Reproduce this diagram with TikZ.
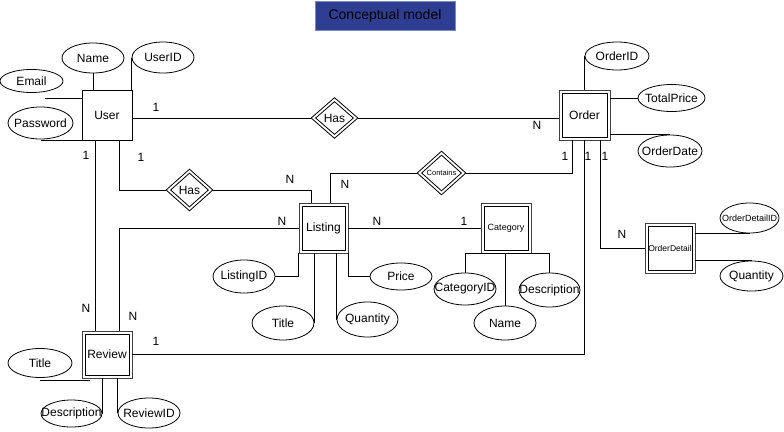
\documentclass[tikz,border=0pt]{standalone}
\usepackage{fontspec}
\setmainfont{Liberation Sans}
\usetikzlibrary{shapes.geometric,calc}
\definecolor{titlefill}{RGB}{46,62,146}
\definecolor{titleline}{RGB}{120,140,190}
\newcommand{\zw}[1]{\makebox[0pt]{#1}}
\tikzset{
  base/.style={font=\fontsize{12}{14}\selectfont, inner sep=0pt},
  attr/.style={base, ellipse, draw=black, line width=0.8pt, fill=white},
  ent/.style={base, rectangle, draw=black, line width=0.8pt, fill=white},
  went/.style={base, rectangle, draw=black!75, line width=0.8pt, fill=white,
    path picture={\draw[black, line width=0.8pt] ([shift={(3pt,-3pt)}]path picture bounding box.north west) rectangle ([shift={(-3pt,3pt)}]path picture bounding box.south east);}},
  rel/.style={base, diamond, draw=black, line width=0.8pt, fill=white,
    path picture={\draw[black, line width=0.8pt] ([yshift=-4pt]path picture bounding box.north) -- ([xshift=-4.5pt]path picture bounding box.east) -- ([yshift=4pt]path picture bounding box.south) -- ([xshift=4.5pt]path picture bounding box.west) -- cycle;}},
  conn/.style={draw=black, line width=0.8pt},
  lbl/.style={base},
}
\begin{document}
\begin{tikzpicture}[x=1pt,y=-1pt]
\useasboundingbox (0,0) rectangle (784,431);
% title
\node[base, draw=titleline, fill=titlefill, minimum width=140pt, minimum height=29pt, font=\fontsize{14}{16}\selectfont] (title) at (385,15.5) {Conceptual model};
% entities
\node[ent, minimum width=50pt, minimum height=50pt] (user) at (107,115) {User};
\node[went, minimum width=51pt, minimum height=50pt] (order) at (584.5,115) {Order};
\node[went, minimum width=49pt, minimum height=50pt] (listing) at (323.5,228) {Listing};
\node[went, minimum width=50pt, minimum height=50pt, font=\fontsize{9}{10}\selectfont] (category) at (506,228) {Category};
\node[went, minimum width=50pt, minimum height=47pt] (review) at (107,354.5) {Review};
\node[went, minimum width=50pt, minimum height=50pt, font=\fontsize{8.5}{10}\selectfont] (orderdetail) at (670,248) {OrderDetail};
% relationships
\node[rel, minimum width=47pt, minimum height=41pt] (has1) at (334.5,118) {Has};
\node[rel, minimum width=47pt, minimum height=42pt] (has2) at (189.5,190) {Has};
\node[rel, minimum width=49pt, minimum height=44pt, font=\fontsize{7.5}{9}\selectfont] (contains) at (441.5,173) {\zw{Contains}};
% attributes
\node[attr, minimum width=62pt, minimum height=30pt] (name) at (93,58) {\zw{Name}};
\node[attr, minimum width=62pt, minimum height=31pt] (userid) at (163,57.5) {\zw{UserID}};
\node[attr, minimum width=63pt, minimum height=23pt] (email) at (31.5,81) {\zw{Email}};
\node[attr, minimum width=65pt, minimum height=32pt] (password) at (40.5,123) {\zw{Password}};
\node[attr, minimum width=64pt, minimum height=28pt] (orderid) at (617,56) {\zw{OrderID}};
\node[attr, minimum width=67pt, minimum height=27pt] (totalprice) at (671.5,98) {\zw{TotalPrice}};
\node[attr, minimum width=64pt, minimum height=32pt] (orderdate) at (670,151) {\zw{OrderDate}};
\node[attr, minimum width=59pt, minimum height=30pt, font=\fontsize{9}{10}\selectfont] (orderdetailid) at (749.5,218) {\zw{OrderDetailID}};
\node[attr, minimum width=63pt, minimum height=30pt] (quantity2) at (751.5,276) {\zw{Quantity}};
\node[attr, minimum width=62pt, minimum height=33pt] (listingid) at (244,276.5) {\zw{ListingID}};
\node[attr, minimum width=62pt, minimum height=34pt] (title1) at (283,323) {\zw{Title}};
\node[attr, minimum width=61pt, minimum height=35pt] (quantity1) at (367.5,319.5) {\zw{Quantity}};
\node[attr, minimum width=62pt, minimum height=27pt] (price) at (401,276.5) {\zw{Price}};
\node[attr, minimum width=62pt, minimum height=32pt] (categoryid) at (465,289) {\zw{CategoryID}};
\node[attr, minimum width=62pt, minimum height=34pt] (catname) at (505,323) {\zw{Name}};
\node[attr, minimum width=61pt, minimum height=34pt] (catdesc) at (549.5,290) {\zw{Description}};
\node[attr, minimum width=64pt, minimum height=29pt] (revtitle) at (40,363) {\zw{Title}};
\node[attr, minimum width=61pt, minimum height=27pt] (revdesc) at (71.5,413.5) {\zw{Description}};
\node[attr, minimum width=62pt, minimum height=30pt] (reviewid) at (149,413) {\zw{ReviewID}};
% helper coordinates
\coordinate (emailend) at (45,98);
\coordinate (rtend) at (90,380);
% connectors: user attributes
\draw[conn] (name.south) -- (name.south |- user.north);
\draw[conn] (userid.west) -- (userid.west |- user.north);
\draw[conn] (emailend) -- (emailend -| user.west);
\draw[conn] (password.south |- user.south west) -- (user.south west);
% relationships
\draw[conn] (has1.west) -- (has1.west -| user.east);
\draw[conn] (has1.east) -- (has1.east -| order.west);
\draw[conn] ([xshift=12pt]user.south) |- (has2.west);
\draw[conn] (has2.east) -| ([xshift=-12.5pt]listing.north);
\draw[conn] ([xshift=-12pt]user.south) -- ([xshift=-12pt]review.north);
\draw[conn] (listing.west) -| ([xshift=12pt]review.north);
\draw[conn] (listing.east) -- (category.west);
\draw[conn] ([xshift=-12.5pt]order.south) |- (contains.east);
\draw[conn] (contains.west) -| ([xshift=6.5pt]listing.north);
\draw[conn] (order.south) |- (review.east);
\draw[conn] ([xshift=15.5pt]order.south) |- (orderdetail.west);
% order attributes
\draw[conn] (orderid.west) -- (orderid.west |- order.north);
\draw[conn] (totalprice.west) -- (totalprice.west -| order.east);
\draw[conn] (orderdate.north) -- (orderdate.north -| order.east);
\draw[conn] (orderdetailid.south) -- (orderdetailid.south -| orderdetail.east);
\draw[conn] (quantity2.north) -- (quantity2.north -| orderdetail.east);
% listing attributes
\draw[conn] (listingid.east) -| (listing.south west);
\draw[conn] (title1.east) -- (title1.east |- listing.south);
\draw[conn] (quantity1.west) -- (quantity1.west |- listing.south);
\draw[conn] (price.west) -| (listing.south east);
% category attributes
\draw[conn] (categoryid.north) -- (categoryid.north |- category.south) -- (catdesc.north |- category.south) -- (catdesc.north);
\draw[conn] (catname.north) -- (catname.north |- category.south);
% review attributes
\draw[conn] (revtitle.south |- rtend) -- (rtend);
\draw[conn] (revdesc.east) -- (revdesc.east |- review.south);
\draw[conn] (reviewid.west) -- (reviewid.west |- review.south);
% cardinality labels
\node[lbl] (l1) at (156,107) {1};
\node[lbl] (l2) at (537,125) {N};
\node[lbl] (l3) at (86,155) {1};
\node[lbl] (l4) at (141,157) {1};
\node[lbl] (l5) at (290,179) {N};
\node[lbl] (l6) at (345,184) {N};
\node[lbl] (l7) at (565,156) {1};
\node[lbl] (l8) at (588,156) {1};
\node[lbl] (l9) at (605,156) {1};
\node[lbl] (l10) at (282,221) {N};
\node[lbl] (l11) at (377,221) {N};
\node[lbl] (l12) at (464,221) {1};
\node[lbl] (l13) at (622,234) {N};
\node[lbl] (l14) at (86,308) {N};
\node[lbl] (l15) at (133,316) {N};
\node[lbl] (l16) at (156,341) {1};
\end{tikzpicture}
\end{document}
